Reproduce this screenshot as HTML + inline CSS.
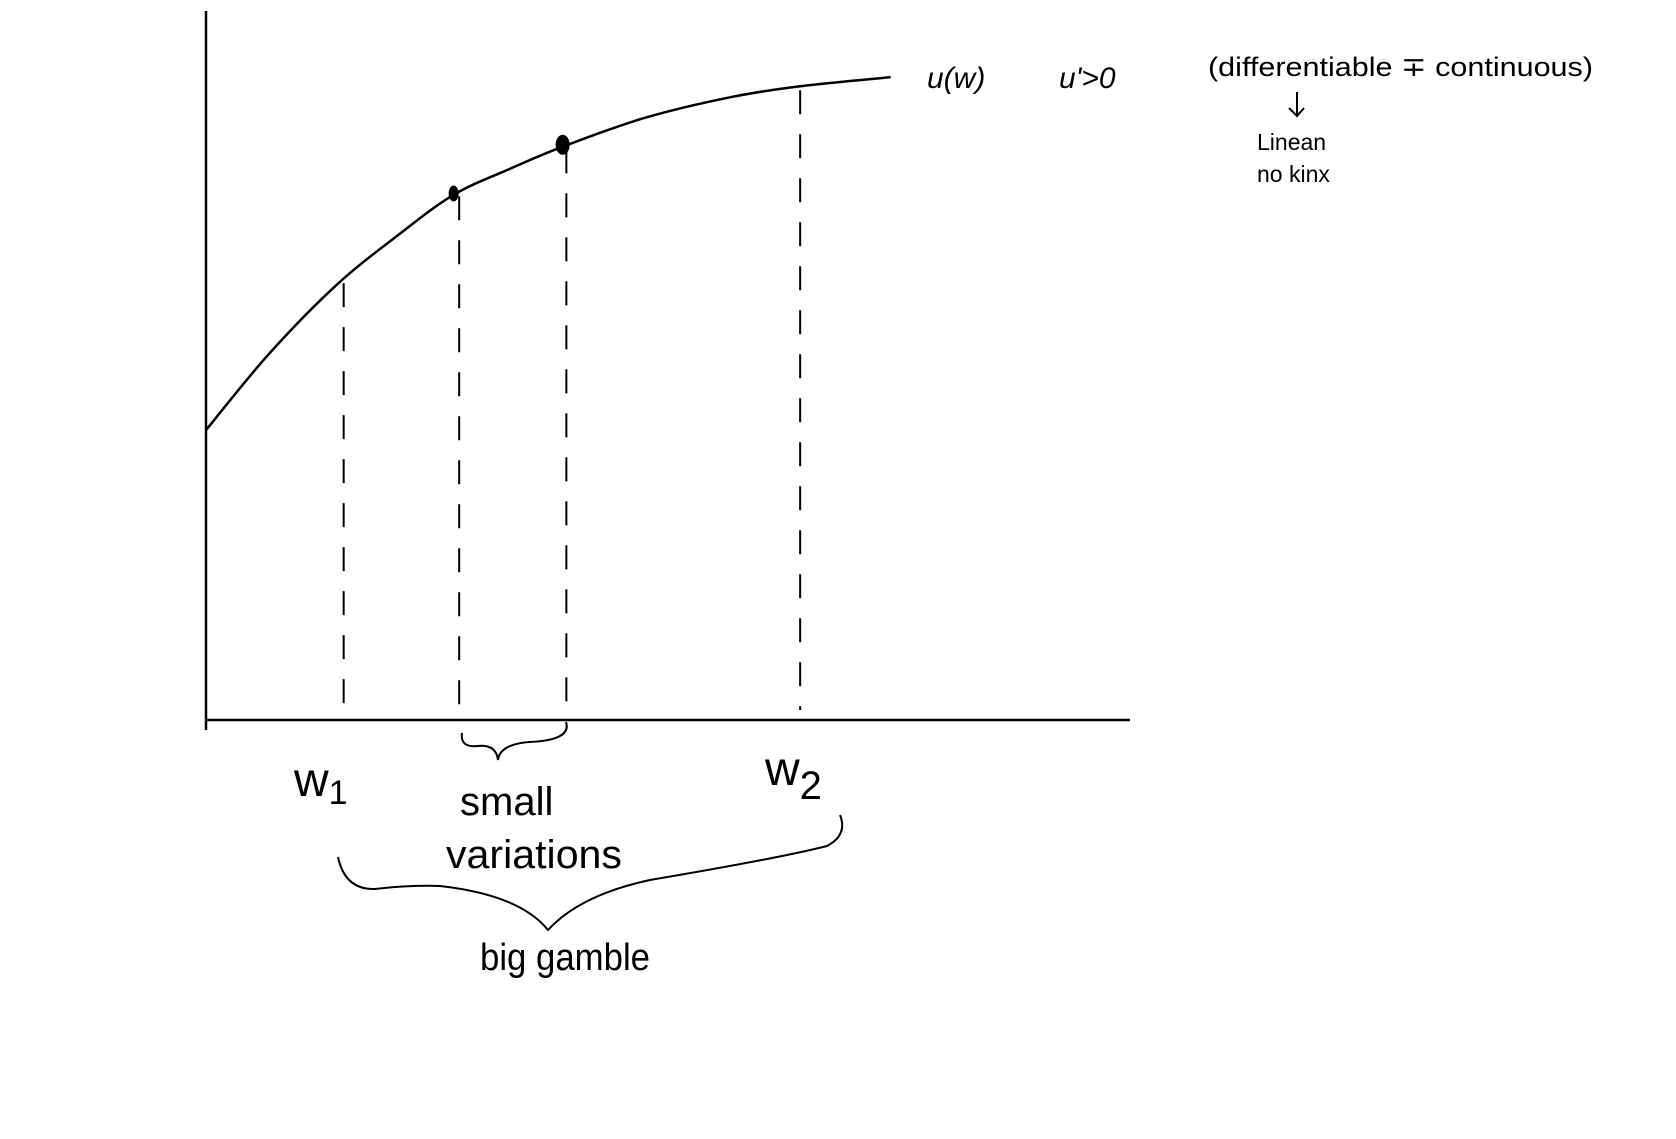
<!DOCTYPE html>
<html><head><meta charset="utf-8"><style>
html,body{margin:0;padding:0;background:#fff;}
svg{display:block;}
text{font-family:"Liberation Sans",sans-serif;fill:#000;}
</style></head><body>
<svg id="chart" width="1676" height="1139" viewBox="0 0 1676 1139" xmlns="http://www.w3.org/2000/svg">
<line x1="206" y1="11" x2="206" y2="730" stroke="#000" stroke-width="2.5"/>
<line x1="206" y1="720" x2="1130" y2="720" stroke="#000" stroke-width="2.5"/>
<g id="marks"></g>
<path d="M462,733 Q460,748 478,746 Q496,744 498,760 Q500,744 530,742 Q572,740 566,722" fill="none" stroke="#000" stroke-width="2"/>
<path d="M338,857 Q345,890 375,889 Q410,885 440,886 Q520,895 548,930 Q580,895 650,880 Q780,858 827,846 Q848,835 840,815" fill="none" stroke="#000" stroke-width="2"/>
<text x="927" y="88" font-size="30" font-style="italic">u(w)</text>
<text x="1059" y="88" font-size="30" font-style="italic">u'&gt;0</text>
<text x="1208" y="76" font-size="27" textLength="385" lengthAdjust="spacingAndGlyphs">(differentiable ∓ continuous)</text>
<path d="M1297,92 L1297,116 M1289,108 L1297,116 L1304,108" fill="none" stroke="#000" stroke-width="2"/>
<text x="1257" y="150" font-size="23">Linean</text>
<text x="1257" y="182" font-size="23">no kinx</text>
<text x="294" y="796" font-size="48">w<tspan font-size="34" dy="8">1</tspan></text>
<text x="765" y="785" font-size="48">w<tspan font-size="40" dy="14">2</tspan></text>
<text x="460" y="815" font-size="40">small</text>
<text x="446" y="868" font-size="40" textLength="176" lengthAdjust="spacingAndGlyphs">variations</text>
<text x="480" y="970" font-size="38" textLength="170" lengthAdjust="spacingAndGlyphs">big gamble</text>
</svg>
<script>
const wealth = [0, 0.68, 1.41, 2.07, 2.68, 3.29, 3.86, 4.74, 5.67, 6.43, 7.41];
const utility = [4.46, 5.63, 6.69, 7.45, 8.08, 8.48, 8.82, 9.26, 9.58, 9.75, 9.89];
const dropWealth = [1.49, 2.74, 3.9, 6.43];
const dotWealth = [2.68, 3.86];
const dotUtility = [8.1, 8.85];

const xS = v => 206 + v * 92.4;
const yS = v => 720 - v * 65;
const NS = 'http://www.w3.org/2000/svg';
const g = document.getElementById('marks');

function interpU(w){
  for(let i=0;i<wealth.length-1;i++){
    if(w>=wealth[i]&&w<=wealth[i+1]){
      const t=(w-wealth[i])/(wealth[i+1]-wealth[i]);
      return utility[i]+t*(utility[i+1]-utility[i]);
    }
  }
  return utility[utility.length-1];
}

const P = wealth.map((w,i)=>[xS(w), yS(utility[i])]);
let d = `M${P[0][0]},${P[0][1]}`;
for(let i=0;i<P.length-1;i++){
  const p0=P[Math.max(0,i-1)],p1=P[i],p2=P[i+1],p3=P[Math.min(P.length-1,i+2)];
  const c1=[p1[0]+(p2[0]-p0[0])/6,p1[1]+(p2[1]-p0[1])/6];
  const c2=[p2[0]-(p3[0]-p1[0])/6,p2[1]-(p3[1]-p1[1])/6];
  d+=` C${c1[0]},${c1[1]} ${c2[0]},${c2[1]} ${p2[0]},${p2[1]}`;
}
const curve=document.createElementNS(NS,'path');
curve.setAttribute('d',d);
curve.setAttribute('fill','none');
curve.setAttribute('stroke','#000');
curve.setAttribute('stroke-width','2.5');


g.appendChild(curve);

dropWealth.forEach((w,i)=>{
  const l=document.createElementNS(NS,'line');
  l.setAttribute('x1',xS(w));l.setAttribute('x2',xS(w));
  l.setAttribute('y1',yS(interpU(w))+4);l.setAttribute('y2',yS(0)-10);
  l.setAttribute('stroke','#000');l.setAttribute('stroke-width','2');
  l.setAttribute('stroke-dasharray','24 20');
  
  
  g.appendChild(l);
});

dotWealth.forEach((w,i)=>{
  const c=document.createElementNS(NS,'ellipse');
  c.setAttribute('cx',xS(w));c.setAttribute('cy',yS(dotUtility[i]));
  c.setAttribute('rx',i===1?7:5);c.setAttribute('ry',i===1?10:8);
  c.setAttribute('fill','#000');
  
  
  g.appendChild(c);
});
</script>
</body></html>
